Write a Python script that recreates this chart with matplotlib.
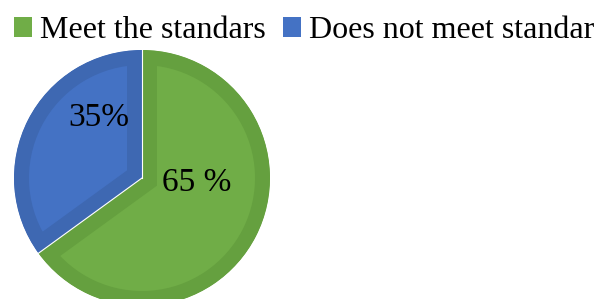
import numpy as np
import matplotlib.pyplot as plt
from matplotlib.patches import Patch

# datos
categorias = ["Meet the standars", "Does not meet standar"]
valores = [65, 35]
etiquetas = ["65 %", "35%"]
colores = ["#70AD47", "#4472C4"]
bordes = ["#65A03F", "#3E68B2"]

plt.rcParams['font.family'] = ['Liberation Serif', 'DejaVu Serif']

fig = plt.figure(figsize=(5.98, 2.99), dpi=100)
# eje cuadrado: centro en (142, 178) px, radio 128 px
ax = fig.add_axes([14 / 598, -7 / 299, 256 / 598, 256 / 299])

wedges, _ = ax.pie(valores, colors=colores, startangle=90, counterclock=False,
                   radius=1, wedgeprops=dict(linewidth=0))

# borde interior mas oscuro (trazo recortado por la propia cuna)
for w, c in zip(wedges, bordes):
    w.set_edgecolor(c)
    w.set_linewidth(21.6)
    w.set_clip_on(True)
    w.set_clip_path(w)

# linea blanca fina entre porciones
angulos = 90 - 360 * np.cumsum([0] + valores[:-1]) / sum(valores)
for a in np.deg2rad(angulos):
    ax.plot([0, np.cos(a)], [0, np.sin(a)], color="white", lw=0.8)

# posiciones de las etiquetas
pos_etiquetas = [(0.43, -0.04), (-0.34, 0.47)]
for txt, (x, y) in zip(etiquetas, pos_etiquetas):
    ax.text(x, y, txt, ha="center", va="center", fontsize=24, color="black")

ax.set_xlim(-1, 1)
ax.set_ylim(-1, 1)
ax.set_aspect("equal")
ax.axis("off")

handles = [Patch(facecolor=c, edgecolor="none") for c in colores]
fig.legend(handles, categorias, loc="upper left", bbox_to_anchor=(0.0025, 0.988),
           ncol=2, frameon=False, fontsize=23, handlelength=0.55, handleheight=0.55,
           handletextpad=0.25, columnspacing=0.55, borderaxespad=0)

fig.savefig("out.png", dpi=100)
